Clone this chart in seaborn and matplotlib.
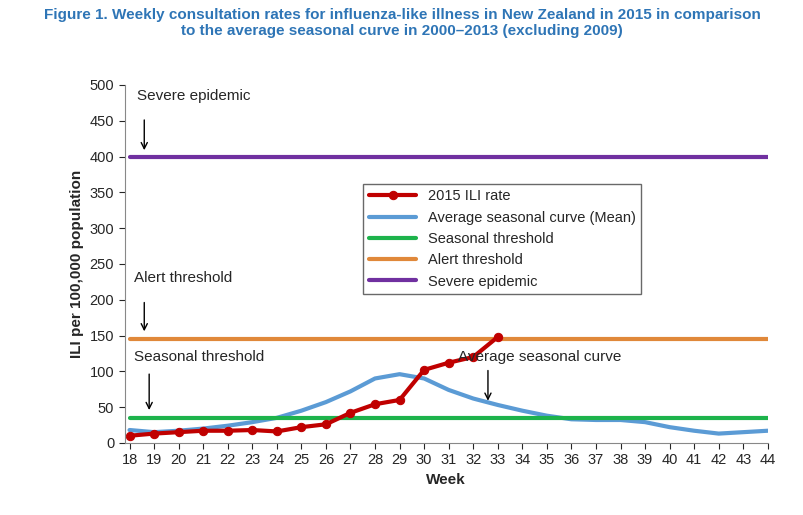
import matplotlib
matplotlib.use("Agg")
import matplotlib.pyplot as plt
import pandas as pd
import seaborn as sns

weeks = list(range(18, 45))
ili_2015 = [10, 13, 15, 17, 17, 18, 16, 22, 26, 42, 54, 60, 102, 112, 120, 148]
avg_curve = [18, 15, 17, 20, 24, 29, 35, 45, 57, 72, 90, 96, 90, 74, 62, 53,
             45, 38, 33, 32, 32, 29, 22, 17, 13, 15, 17]
seasonal_threshold = 35
alert_threshold = 145
severe_epidemic = 400

sns.set_style("white")
plt.rcParams["font.family"] = ["Liberation Sans", "DejaVu Sans"]

df_red = pd.DataFrame({"week": weeks[:len(ili_2015)], "rate": ili_2015})
df_avg = pd.DataFrame({"week": weeks, "rate": avg_curve})

fig, ax = plt.subplots(figsize=(8.04, 5.15), dpi=100)
fig.subplots_adjust(left=0.155, right=0.955, top=0.835, bottom=0.14)

lines = [
    ("Seasonal threshold", seasonal_threshold, "#1db34b"),
    ("Alert threshold", alert_threshold, "#e0883a"),
    ("Severe epidemic", severe_epidemic, "#7030a0"),
]
sns.lineplot(df_avg, x="week", y="rate", color="#5b9bd5", lw=3, ax=ax,
             label="Average seasonal curve (Mean)")
for name, val, col in lines:
    sns.lineplot(x=[18, 44], y=[val, val], color=col, lw=3, ax=ax, label=name)
sns.lineplot(df_red, x="week", y="rate", color="#c00000", lw=3, marker="o",
             markersize=6, markeredgecolor="#c00000", ax=ax, label="2015 ILI rate")

h, l = ax.get_legend_handles_labels()
order = [4, 0, 1, 2, 3]
ax.legend([h[i] for i in order], [l[i] for i in order], loc="upper left",
          bbox_to_anchor=(0.36, 0.745), frameon=True, fancybox=False,
          edgecolor="#444444", fontsize=10.5, handlelength=3.2)

ax.set_xlim(17.8, 44)
ax.set_ylim(0, 500)
ax.set_xticks(weeks)
ax.set_yticks(range(0, 501, 50))
ax.tick_params(labelsize=10.5, length=4, bottom=True, left=True)
for s in ["top", "right"]:
    ax.spines[s].set_visible(False)
for s in ["left", "bottom"]:
    ax.spines[s].set_color("#888888")
ax.set_xlabel("Week", fontweight="bold", fontsize=11)
ax.set_ylabel("ILI per 100,000 population", fontweight="bold", fontsize=11)

ann = dict(arrowprops=dict(arrowstyle="->", color="black", lw=1), fontsize=11)
ax.annotate("", xy=(18.6, 405), xytext=(18.6, 455), **ann)
ax.text(18.3, 484, "Severe epidemic", fontsize=11, va="center")
ax.annotate("", xy=(18.6, 152), xytext=(18.6, 200), **ann)
ax.text(18.2, 230, "Alert threshold", fontsize=11, va="center")
ax.annotate("", xy=(18.8, 42), xytext=(18.8, 100), **ann)
ax.text(18.2, 120, "Seasonal threshold", fontsize=11, va="center")
ax.annotate("", xy=(32.6, 55), xytext=(32.6, 105), **ann)
ax.text(31.4, 120, "Average seasonal curve", fontsize=11, va="center")

fig.suptitle("Figure 1. Weekly consultation rates for influenza-like illness in New Zealand in 2015 in comparison\n"
             "to the average seasonal curve in 2000\u20132013 (excluding 2009)",
             color="#2e75b6", fontweight="bold", fontsize=11, y=0.985)
fig.savefig("out.png")
